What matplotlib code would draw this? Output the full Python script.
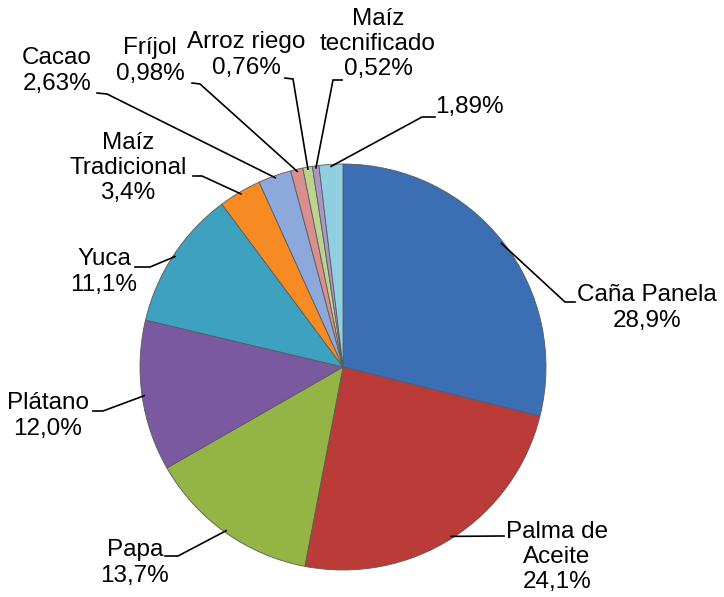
import numpy as np
import matplotlib
matplotlib.use('Agg')
import matplotlib.pyplot as plt

plt.rcParams['font.family'] = ['Liberation Sans', 'DejaVu Sans']

# data
cultivos = ['Caña Panela', 'Palma de\nAceite', 'Papa', 'Plátano', 'Yuca',
            'Maíz\nTradicional', 'Cacao', 'Fríjol', 'Arroz riego',
            'Maíz\ntecnificado', '']
valores = [28.9, 24.1, 13.7, 12.0, 11.1, 3.4, 2.63, 0.98, 0.76, 0.52, 1.89]
etiquetas_pct = ['28,9%', '24,1%', '13,7%', '12,0%', '11,1%', '3,4%',
                 '2,63%', '0,98%', '0,76%', '0,52%', '1,89%']
colores = ['#3C6EB4', '#BA3B37', '#94B445', '#7B59A1', '#3DA1BF', '#F68B24',
           '#8DA8DA', '#D98F8D', '#BDD48F', '#A998C3', '#8FCFE0']

W, H = 724, 597
# label layout in image pixels: text centre, elbow point, end of horizontal stub
txt_pos = [(647, 308), (557, 557), (135, 563), (48, 416), (104, 272),
           (128, 168), (57, 71), (150, 61), (246, 55), (378, 44), (469, 107)]
elbow = [(565, 302), (500, 536), (178, 556), (103, 411), (150, 267),
         (202, 176), (107, 94), (200, 84), (293, 79), (333, 80), (422, 117)]
stub = [(575, 302), (504, 536), (165, 556), (93, 411), (135, 267),
        (193, 176), (97, 93), (192, 83), (285, 78), (342, 80), (435, 117)]

def fy(y):
    return H - y

fig = plt.figure(figsize=(W / 100, H / 100), dpi=100)
ax = fig.add_axes([0, 0, 1, 1])
ax.set_xlim(0, W)
ax.set_ylim(0, H)
ax.set_aspect('equal')
ax.axis('off')

cx, cy, r = 343, fy(367), 203
wedges, _ = ax.pie(valores, colors=colores, startangle=90, counterclock=False,
                   center=(cx, cy), radius=r, frame=True,
                   wedgeprops=dict(edgecolor='#5a5a5a', linewidth=0.6))
ax.set_xlim(0, W)
ax.set_ylim(0, H)
ax.axis('off')

for i, w in enumerate(wedges):
    ang = np.deg2rad((w.theta1 + w.theta2) / 2)
    px = cx + 0.99 * r * np.cos(ang)
    py = cy + 0.99 * r * np.sin(ang)
    ex, ey = elbow[i]
    sx, sy = stub[i]
    ax.plot([px, ex, sx], [py, fy(ey), fy(sy)], color='black', lw=1.2,
            solid_joinstyle='miter')
    texto = etiquetas_pct[i] if cultivos[i] == '' else cultivos[i] + '\n' + etiquetas_pct[i]
    tx, ty = txt_pos[i]
    ax.text(tx, fy(ty), texto, ha='center', va='center', fontsize=17.5,
            color='black', linespacing=1.2)

fig.savefig('out.png', dpi=100)
